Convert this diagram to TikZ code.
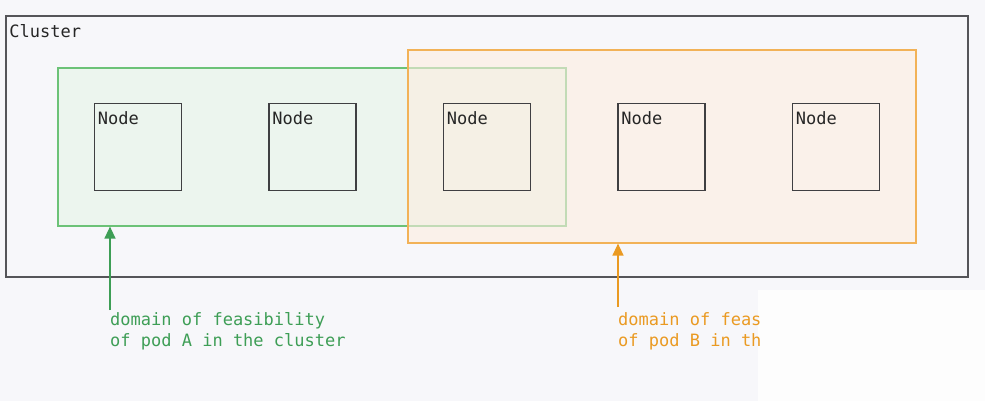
\documentclass[tikz,border=0pt]{standalone}
\usepackage{fontspec}
\setmonofont{DejaVu Sans Mono}
\usepackage{tikz}
\usetikzlibrary{arrows.meta, positioning, patterns}
\definecolor{bggray}{HTML}{F7F7FA}
\definecolor{framegray}{HTML}{555559}
\definecolor{boxgray}{HTML}{3F3F42}
\definecolor{podgreen}{HTML}{6CC277}
\definecolor{fillgreen}{HTML}{E9F5EB}
\definecolor{textgreen}{HTML}{3E9E56}
\definecolor{podorange}{HTML}{F2B257}
\definecolor{fillorange}{HTML}{FCEDE0}
\definecolor{textorange}{HTML}{EA9A22}
\newcommand{\monofont}{\ttfamily\fontsize{17}{21}\selectfont}

\begin{document}
\begin{tikzpicture}[
    x=1pt, y=-1pt,
    node distance=86pt,
    cluster/.style={rectangle, draw=framegray, line width=1.5pt, fill=bggray, minimum width=962pt, minimum height=261pt, inner sep=0pt},
    domA/.style={rectangle, draw=podgreen, line width=1.2pt, fill=fillgreen, fill opacity=0.75, minimum width=508pt, minimum height=158pt, inner sep=0pt},
    domB/.style={rectangle, draw=podorange, line width=1.2pt, fill=fillorange, fill opacity=0.6, minimum width=508pt, minimum height=193pt, inner sep=0pt},
    vm/.style={rectangle, draw=boxgray, line width=1.5pt, minimum width=87pt, minimum height=87pt, inner sep=0pt,
        label={[anchor=north west, inner xsep=4pt, inner ysep=9pt, font=\monofont, text=black!85]north west:Node}},
    note/.style={anchor=north west, inner sep=0pt, align=left, font=\monofont},
    arr/.style={-{Triangle[length=12pt, width=11pt]}, line width=1.3pt},
]
    % background
    \fill[bggray] (0,0) rectangle (985,401);
    \fill[white!70!bggray] (758,290) rectangle (985,401);
    \useasboundingbox (0,0) rectangle (985,401);

    \node[cluster, label={[anchor=north west, inner xsep=4pt, inner ysep=9pt, font=\monofont, text=black!85]north west:Cluster}] (cl) at (487,146.5) {};
    \node[domA] (podA) at (312,147) {};
    \node[domB] (podB) at (662,146.5) {};

    \node[vm] (n3) at (487,147) {};
    \node[vm, left=of n3] (n2) {};
    \node[vm, left=of n2] (n1) {};
    \node[vm, right=of n3] (n4) {};
    \node[vm, right=of n4] (n5) {};

    \node[note, text=textgreen] (noteA) at (110,312) {domain of feasibility\\of pod A in the cluster};
    \node[note, text=textorange] (noteB) at (618,312) {domain of feas\\of pod B in th};

    \coordinate (startA) at (110,310);
    \coordinate (startB) at (618,307);
    \draw[arr, textgreen] (startA) -- (startA |- podA.south);
    \draw[arr, textorange] (startB) -- (startB |- podB.south);
\end{tikzpicture}
\end{document}
